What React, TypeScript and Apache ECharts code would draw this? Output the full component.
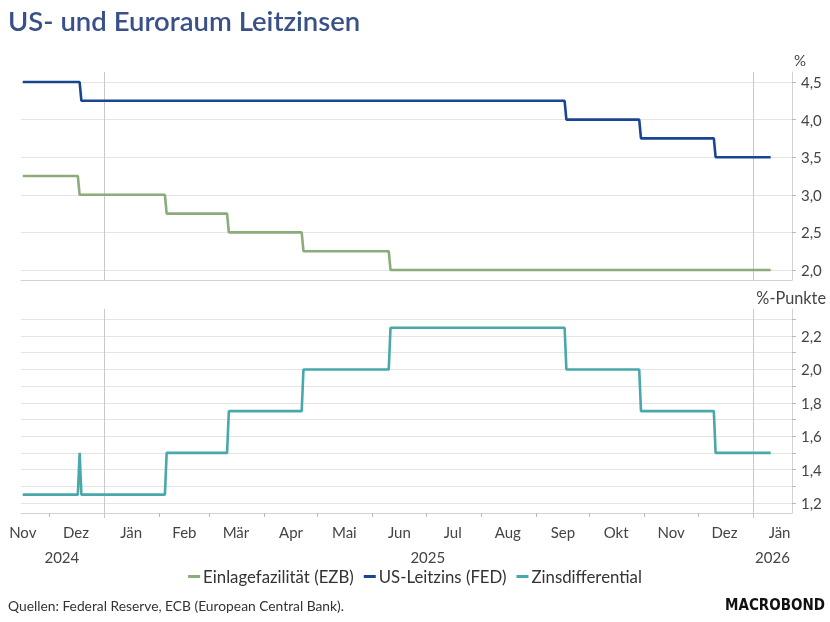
import React, { useEffect, useRef } from "react";
import * as echarts from "echarts";

// ---- data (step change points: [effective date, value]) ----
const fedSteps: [string, number][] = [
  ["2024-11-16", 4.5],
  ["2024-12-19", 4.25],
  ["2025-09-18", 4.0],
  ["2025-10-30", 3.75],
  ["2025-12-11", 3.5],
];
const ezbSteps: [string, number][] = [
  ["2024-11-16", 3.25],
  ["2024-12-18", 3.0],
  ["2025-02-05", 2.75],
  ["2025-03-12", 2.5],
  ["2025-04-23", 2.25],
  ["2025-06-11", 2.0],
];
const spreadSteps: [string, number][] = [
  ["2024-11-16", 1.25],
  ["2024-12-18", 1.5],
  ["2024-12-19", 1.25],
  ["2025-02-05", 1.5],
  ["2025-03-12", 1.75],
  ["2025-04-23", 2.0],
  ["2025-06-11", 2.25],
  ["2025-09-18", 2.0],
  ["2025-10-30", 1.75],
  ["2025-12-11", 1.5],
];
const lastDate = "2026-01-11";

const axisStart = "2024-11-15";
const axisEnd = "2026-01-23";

const monthTickDates = [
  "2024-12-01", "2025-01-01", "2025-02-01", "2025-03-01", "2025-04-01", "2025-05-01",
  "2025-06-01", "2025-07-01", "2025-08-01", "2025-09-01", "2025-10-01", "2025-11-01",
  "2025-12-01", "2026-01-01",
];
const monthLabelDates = [
  "2024-11-16", "2024-12-16", "2025-01-16", "2025-02-15", "2025-03-16", "2025-04-16",
  "2025-05-16", "2025-06-16", "2025-07-16", "2025-08-16", "2025-09-16", "2025-10-16",
  "2025-11-16", "2025-12-16", "2026-01-16",
];
const monthLabels = [
  "Nov", "Dez", "Jän", "Feb", "Mär", "Apr", "Mai", "Jun", "Jul", "Aug", "Sep", "Okt",
  "Nov", "Dez", "Jän",
];
const yearLabelDates = ["2024-12-08", "2025-07-02", "2026-01-12"];
const yearLabels = ["2024", "2025", "2026"];
const yearLineDates = ["2025-01-01", "2026-01-01"];

const topTicks = [2.0, 2.5, 3.0, 3.5, 4.0, 4.5];
const bottomTicks = [1.2, 1.3, 1.4, 1.5, 1.6, 1.7, 1.8, 1.9, 2.0, 2.1, 2.2, 2.3];
const bottomLabels = [1.2, 1.4, 1.6, 1.8, 2.0, 2.2];

const seriesNames = ["Einlagefazilität (EZB)", "US-Leitzins (FED)", "Zinsdifferential"];
const colors = ["#8aac7b", "#184690", "#48a8aa"];

// ---- helpers ----
const DAY = 86400000;
const ts = (d: string) => {
  const [y, m, dd] = d.split("-").map(Number);
  return Date.UTC(y, m - 1, dd);
};
const stepData = (steps: [string, number][], end: string) => {
  const out: [number, number][] = [];
  steps.forEach(([d, v], i) => {
    const t = ts(d);
    if (i > 0) out.push([t - DAY, steps[i - 1][1]]);
    out.push([t, v]);
  });
  out.push([ts(end), steps[steps.length - 1][1]]);
  return out;
};
const fmt = (v: number) => v.toFixed(1).replace(".", ",");

const FONT = "Lato";
const GRID_COLOR = "#e4e4e4";
const AXIS_COLOR = "#d2d2d2";
const YEAR_LINE = "#c9c9c9";
const LABEL_COLOR = "#444";

export default function App() {
  const ref = useRef<HTMLDivElement>(null);
  useEffect(() => {
    if (!ref.current) return;
    const chart = echarts.init(ref.current, undefined, { renderer: "svg" });
    const xMin = ts(axisStart);
    const xMax = ts(axisEnd);
    const monthLabelTs = monthLabelDates.map(ts);
    const yearLabelTs = yearLabelDates.map(ts);
    const baseX = {
      type: "value" as const,
      min: xMin,
      max: xMax,
    };
    const option: any = {
      animation: false,
      textStyle: { fontFamily: FONT },
      grid: [
        { left: 21, right: 38, top: 72, height: 208 },
        { left: 21, right: 38, top: 309, height: 204 },
      ],
      xAxis: [
        {
          ...baseX,
          gridIndex: 0,
          position: "bottom",
          axisLine: { show: true, lineStyle: { color: AXIS_COLOR, width: 1 } },
          axisLabel: { show: false },
          axisTick: { show: false, customValues: yearLineDates.map(ts) },
          splitLine: { show: true, lineStyle: { color: YEAR_LINE, width: 1 } },
        },
        {
          ...baseX,
          gridIndex: 1,
          position: "bottom",
          axisLine: { show: true, lineStyle: { color: AXIS_COLOR, width: 1 } },
          axisTick: {
            show: true,
            length: 4,
            customValues: monthTickDates.map(ts),
            lineStyle: { color: "#b8b8b8" },
          },
          axisLabel: {
            show: true,
            margin: 11,
            fontSize: 15,
            color: LABEL_COLOR,
            fontFamily: FONT,
            customValues: monthLabelTs,
            formatter: (v: number) => {
              const i = monthLabelTs.indexOf(v);
              return i >= 0 ? monthLabels[i] : "";
            },
          },
          splitLine: { show: false },
        },
        {
          ...baseX,
          gridIndex: 1,
          position: "bottom",
          offset: 25,
          axisLine: { show: false },
          axisTick: { show: false },
          axisLabel: {
            show: true,
            margin: 11,
            fontSize: 15,
            color: LABEL_COLOR,
            fontFamily: FONT,
            customValues: yearLabelTs,
            formatter: (v: number) => {
              const i = yearLabelTs.indexOf(v);
              return i >= 0 ? yearLabels[i] : "";
            },
          },
          splitLine: { show: false },
        },
        {
          ...baseX,
          gridIndex: 1,
          position: "bottom",
          axisLine: { show: false },
          axisLabel: { show: false },
          axisTick: {
            show: true,
            length: 5,
            customValues: yearLineDates.map(ts),
            lineStyle: { color: YEAR_LINE },
          },
          splitLine: { show: true, lineStyle: { color: YEAR_LINE, width: 1 } },
        },
      ],
      yAxis: [
        {
          type: "value",
          gridIndex: 0,
          position: "right",
          min: 1.867,
          max: 4.633,
          axisLine: { show: true, lineStyle: { color: AXIS_COLOR } },
          axisTick: { show: true, length: 4, customValues: topTicks, lineStyle: { color: "#b8b8b8" } },
          axisLabel: {
            margin: 9,
            fontSize: 15,
            color: LABEL_COLOR,
            fontFamily: FONT,
            customValues: topTicks,
            formatter: fmt,
          },
          splitLine: { show: true, lineStyle: { color: GRID_COLOR } },
        },
        {
          type: "value",
          gridIndex: 1,
          position: "right",
          min: 1.14,
          max: 2.362,
          axisLine: { show: true, lineStyle: { color: AXIS_COLOR } },
          axisTick: { show: true, length: 4, customValues: bottomTicks, lineStyle: { color: "#b8b8b8" } },
          axisLabel: {
            margin: 9,
            fontSize: 15,
            color: LABEL_COLOR,
            fontFamily: FONT,
            customValues: bottomLabels,
            formatter: fmt,
          },
          splitLine: { show: true, lineStyle: { color: GRID_COLOR } },
        },
      ],
      legend: {
        show: true,
        bottom: 32,
        left: "center",
        icon: "rect",
        itemWidth: 12,
        itemHeight: 3,
        itemGap: 10,
        textStyle: { fontSize: 16.8, color: "#333", fontFamily: FONT, padding: [0, 0, 0, -2] },
        data: seriesNames,
      },
      series: [
        {
          name: seriesNames[0],
          type: "line",
          xAxisIndex: 0,
          yAxisIndex: 0,
          showSymbol: false,
          data: stepData(ezbSteps, lastDate),
          lineStyle: { width: 2.6, color: colors[0] },
          itemStyle: { color: colors[0] },
        },
        {
          name: seriesNames[1],
          type: "line",
          xAxisIndex: 0,
          yAxisIndex: 0,
          showSymbol: false,
          data: stepData(fedSteps, lastDate),
          lineStyle: { width: 2.6, color: colors[1] },
          itemStyle: { color: colors[1] },
        },
        {
          name: seriesNames[2],
          type: "line",
          xAxisIndex: 1,
          yAxisIndex: 1,
          showSymbol: false,
          data: stepData(spreadSteps, lastDate),
          lineStyle: { width: 2.6, color: colors[2] },
          itemStyle: { color: colors[2] },
        },
      ],
      graphic: [
        {
          type: "text",
          left: 8,
          top: 6,
          style: {
            text: "US- und Euroraum Leitzinsen",
            fontSize: 27.5,
            fontWeight: 600,
            fontFamily: FONT,
            fill: "#3a5089",
          },
        },
        {
          type: "text",
          x: 800,
          y: 60,
          style: {
            text: "%",
            fontSize: 15,
            fontFamily: FONT,
            fill: LABEL_COLOR,
            align: "center",
            verticalAlign: "middle",
          },
        },
        {
          type: "text",
          x: 826,
          y: 297,
          style: {
            text: "%-Punkte",
            fontSize: 16.3,
            fontFamily: FONT,
            fill: LABEL_COLOR,
            align: "right",
            verticalAlign: "middle",
          },
        },
        {
          type: "text",
          x: 8,
          y: 605,
          style: {
            text: "Quellen: Federal Reserve, ECB (European Central Bank).",
            fontSize: 13.8,
            fontFamily: FONT,
            fill: "#333",
            verticalAlign: "middle",
          },
        },
        {
          type: "text",
          x: 825,
          y: 605,
          style: {
            text: "MACROBOND",
            fontSize: 15,
            fontWeight: "bold",
            fontFamily: "DejaVu Sans Condensed",
            fill: "#111",
            align: "right",
            verticalAlign: "middle",
          },
        },
      ],
    };
    chart.setOption(option);
    return () => chart.dispose();
  }, []);
  return (
    <div
      ref={ref}
      style={{ position: "fixed", left: 0, top: 0, width: 830, height: 622 }}
    />
  );
}
